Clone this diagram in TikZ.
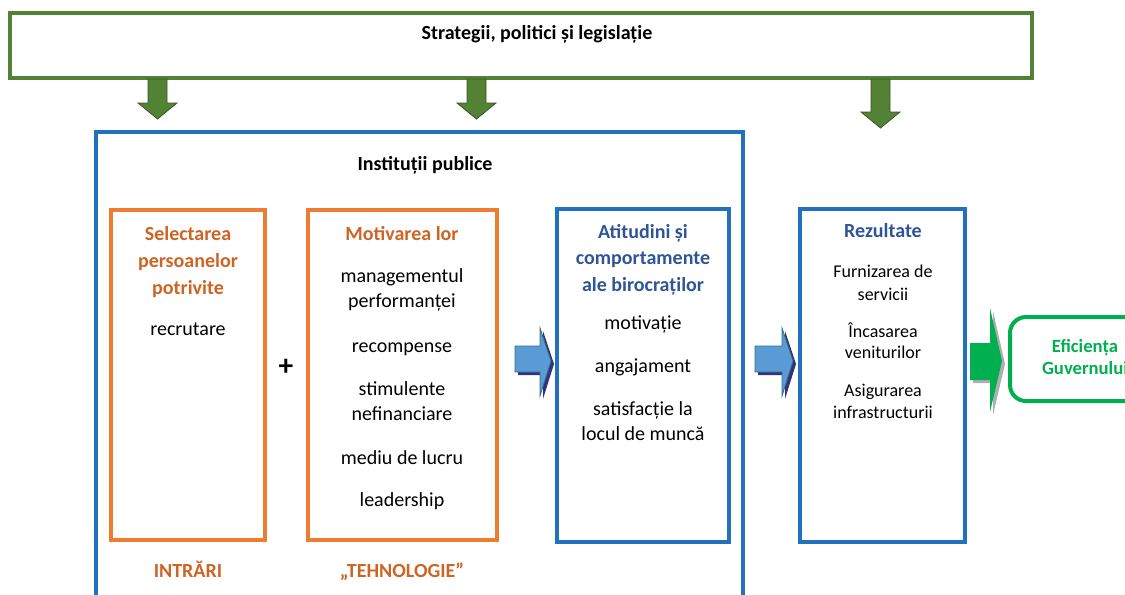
\documentclass[tikz,border=0pt]{standalone}
\usepackage{fontspec}
\setmainfont{Carlito}
\definecolor{polgreen}{RGB}{84,130,53}
\definecolor{polgreendark}{RGB}{56,87,35}
\definecolor{instblue}{RGB}{34,113,190}
\definecolor{boxorange}{RGB}{237,125,49}
\definecolor{txtorange}{RGB}{205,100,35}
\definecolor{txtblue}{RGB}{47,85,151}
\definecolor{arrowblue}{RGB}{91,155,213}
\definecolor{arrowedge}{RGB}{50,110,130}
\definecolor{effgreen}{RGB}{0,176,80}
\begin{document}
\begin{tikzpicture}[x=0.75pt,y=-0.75pt,
  line/.style={anchor=base,inner sep=0pt,font=\fontsize{15}{18}\selectfont},
  smallline/.style={anchor=base,inner sep=0pt,font=\fontsize{13.5}{16}\selectfont},
  otitle/.style={line,font=\fontsize{15}{18}\selectfont\bfseries,text=txtorange},
  btitle/.style={line,font=\fontsize{15}{18}\selectfont\bfseries,text=txtblue},
  etitle/.style={line,font=\fontsize{14}{17}\selectfont\bfseries,text=effgreen},
  gbox/.style={draw=polgreen,line width=3pt},
  bbox/.style={draw=instblue,line width=3pt},
  obox/.style={draw=boxorange,line width=3pt},
  downarrow/.style={fill=polgreen,draw=polgreendark,line width=0.6pt},
  bluearrow/.style={fill=arrowblue,draw=arrowedge,line width=0.6pt},
]
\useasboundingbox (0,0) rectangle (1125,594);
\clip (0,0) rectangle (1125,594);

% strategies band
\draw[gbox,fill=white] (10,13) rectangle (1032,78);
\node[line,font=\fontsize{15}{18}\selectfont\bfseries] (strat) at (537,39) {Strategii, politici și legislație};

% green downward arrows from the strategies band
\draw[downarrow] (148,79) -- (167,79) -- (167,103) -- (177,103) -- (157.5,119) -- (138,103) -- (148,103) -- cycle;
\draw[downarrow] (467,79) -- (486,79) -- (486,103) -- (496,103) -- (476.5,119) -- (457,103) -- (467,103) -- cycle;
\draw[downarrow] (871,79) -- (890,79) -- (890,112) -- (900,112) -- (880.5,128) -- (861,112) -- (871,112) -- cycle;

% public institutions frame
\draw[bbox] (96,132) rectangle (743,620);
\node[line,font=\fontsize{15}{18}\selectfont\bfseries] (inst) at (425,170) {Instituții publice};

% inputs: selection
\draw[obox] (111,210) rectangle (265,540);
\node[otitle] (sel1) at (188,240) {Selectarea};
\node[otitle] (sel2) at (188,267) {persoanelor};
\node[otitle] (sel3) at (188,294) {potrivite};
\node[line] (recr) at (188,335) {recrutare};

\node[line,font=\fontsize{22}{24}\selectfont\bfseries] (plus) at (286,375) {+};

% technology: motivation
\draw[obox] (308,210) rectangle (497,540);
\node[otitle] (mot) at (402,240) {Motivarea lor};
\node[line] (m1) at (402,282) {managementul};
\node[line] (m2) at (402,307) {performanței};
\node[line] (m3) at (402,352) {recompense};
\node[line] (m4) at (402,395) {stimulente};
\node[line] (m5) at (402,420) {nefinanciare};
\node[line] (m6) at (402,464) {mediu de lucru};
\node[line] (m7) at (402,506) {leadership};

\node[otitle] (intrari) at (188,577) {INTRĂRI};
\node[otitle] (tehn) at (402,577) {„TEHNOLOGIE”};

% attitudes and behaviour
\draw[bbox] (557,209) rectangle (729,542);
\node[btitle] (att1) at (643,238) {Atitudini și};
\node[btitle] (att2) at (643,264) {comportamente};
\node[btitle] (att3) at (643,291) {ale birocraților};
\node[line] (a1) at (643,329) {motivație};
\node[line] (a2) at (643,372) {angajament};
\node[line] (a3) at (643,415) {satisfacție la};
\node[line] (a4) at (643,440) {locul de muncă};

% results
\draw[bbox] (800,209) rectangle (965,542);
\node[btitle] (rez) at (883,237) {Rezultate};
\node[smallline] (r1) at (883,277) {Furnizarea de};
\node[smallline] (r2) at (883,300) {servicii};
\node[smallline] (r3) at (883,337) {Încasarea};
\node[smallline] (r4) at (883,358) {veniturilor};
\node[smallline] (r5) at (883,396) {Asigurarea};
\node[smallline] (r6) at (883,418) {infrastructurii};

% blue block arrows with shadow
\fill[black!40!blue!60!black,opacity=0.8] (518,349) -- (543,349) -- (543,331) -- (554,364) -- (543,399) -- (543,375) -- (518,375) -- cycle;
\draw[bluearrow] (515,346) -- (540,346) -- (540,328) -- (551,361) -- (540,396) -- (540,372) -- (515,372) -- cycle;
\fill[black!40!blue!60!black,opacity=0.8] (758,349) -- (785,349) -- (785,331) -- (796,364) -- (785,399) -- (785,375) -- (758,375) -- cycle;
\draw[bluearrow] (755,346) -- (782,346) -- (782,328) -- (793,361) -- (782,396) -- (782,372) -- (755,372) -- cycle;

% green block arrow towards efficiency
\fill[black!45,opacity=0.7] (973,346) -- (993,346) -- (993,311) -- (1005,364) -- (993,415) -- (993,383) -- (973,383) -- cycle;
\fill[effgreen] (970,343) -- (990,343) -- (990,308) -- (1002,361) -- (990,412) -- (990,380) -- (970,380) -- cycle;

% government efficiency
\draw[draw=effgreen,line width=3pt,rounded corners=12] (1010,317) rectangle (1160,401);
\node[etitle] (eff1) at (1085,352) {Eficiența};
\node[etitle] (eff2) at (1085,374) {Guvernului};
\end{tikzpicture}
\end{document}
